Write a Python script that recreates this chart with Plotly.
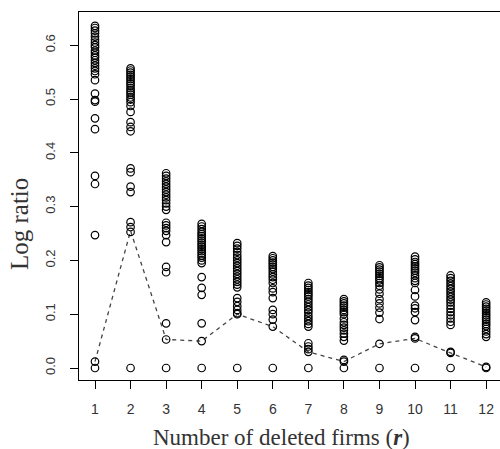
import plotly.graph_objects as go

r_values = list(range(1, 13))
x_tick_labels = [str(v) for v in r_values]
y_tick_vals = [0.0, 0.1, 0.2, 0.3, 0.4, 0.5, 0.6]
y_tick_labels = ["0.0", "0.1", "0.2", "0.3", "0.4", "0.5", "0.6"]
x_title = "Number of deleted firms (<b><i>r</i></b>)"
y_title = "Log ratio"

col1 = [0.636, 0.632, 0.627, 0.622, 0.616, 0.61, 0.605, 0.60, 0.596, 0.59, 0.586, 0.581, 0.577,
        0.572, 0.567, 0.562, 0.557, 0.552, 0.546, 0.535, 0.51, 0.498, 0.495, 0.464, 0.444,
        0.357, 0.342, 0.247, 0.012, 0.0]
col2 = [0.557, 0.553, 0.549, 0.545, 0.541, 0.537, 0.533, 0.529, 0.525, 0.52, 0.516, 0.512, 0.508,
        0.503, 0.499, 0.494, 0.487, 0.476, 0.457, 0.448, 0.44, 0.371, 0.364, 0.337, 0.327,
        0.271, 0.262, 0.253, 0.0]
col3 = [0.362, 0.357, 0.352, 0.347, 0.342, 0.337, 0.332, 0.327, 0.322, 0.317, 0.312, 0.306, 0.3,
        0.294, 0.27, 0.265, 0.26, 0.255, 0.247, 0.234, 0.188, 0.178, 0.083, 0.053, 0.0]
col4 = [0.268, 0.263, 0.258, 0.253, 0.249, 0.245, 0.241, 0.237, 0.233, 0.229, 0.225, 0.221, 0.217,
        0.213, 0.209, 0.205, 0.2, 0.195, 0.169, 0.149, 0.136, 0.083, 0.05, 0.0]
col5 = [0.232, 0.227, 0.222, 0.216, 0.21, 0.205, 0.2, 0.195, 0.19, 0.185, 0.18, 0.175, 0.17,
        0.165, 0.16, 0.155, 0.15, 0.13, 0.123, 0.115, 0.108, 0.102, 0.1, 0.0]
col6 = [0.208, 0.204, 0.2, 0.196, 0.192, 0.188, 0.184, 0.179, 0.174, 0.169, 0.164, 0.158, 0.148,
        0.141, 0.13, 0.108, 0.1, 0.09, 0.077, 0.0]
col7 = [0.158, 0.153, 0.149, 0.145, 0.141, 0.137, 0.133, 0.128, 0.123, 0.118, 0.113, 0.108, 0.103,
        0.097, 0.092, 0.087, 0.082, 0.077, 0.046, 0.04, 0.035, 0.03, 0.0]
col8 = [0.128, 0.124, 0.12, 0.116, 0.112, 0.108, 0.104, 0.1, 0.092, 0.085, 0.08, 0.075, 0.07,
        0.064, 0.058, 0.051, 0.015, 0.012, 0.0]
col9 = [0.191, 0.187, 0.183, 0.179, 0.175, 0.171, 0.167, 0.163, 0.158, 0.153, 0.146, 0.138, 0.128,
        0.12, 0.112, 0.103, 0.091, 0.045, 0.0]
col10 = [0.207, 0.202, 0.197, 0.193, 0.189, 0.185, 0.181, 0.177, 0.172, 0.167, 0.162, 0.158, 0.145,
         0.133, 0.116, 0.111, 0.104, 0.089, 0.058, 0.055, 0.0]
col11 = [0.172, 0.167, 0.162, 0.157, 0.152, 0.147, 0.142, 0.137, 0.132, 0.127, 0.122, 0.116, 0.11,
         0.104, 0.098, 0.092, 0.086, 0.08, 0.03, 0.028, 0.0]
col12 = [0.122, 0.118, 0.114, 0.11, 0.106, 0.102, 0.098, 0.094, 0.09, 0.086, 0.082, 0.078, 0.073,
         0.068, 0.063, 0.058, 0.0, 0.002]

columns = [col1, col2, col3, col4, col5, col6, col7, col8, col9, col10, col11, col12]
dashed_series = [0.012, 0.255, 0.053, 0.05, 0.1, 0.077, 0.03, 0.012, 0.045, 0.055, 0.028, 0.002]

xs, ys = [], []
for r, col in zip(r_values, columns):
    xs.extend([r] * len(col))
    ys.extend(col)

fig = go.Figure()
fig.add_trace(go.Scatter(
    x=r_values, y=dashed_series, mode="lines",
    line=dict(color="#444444", width=1.3, dash="4px,4px"),
    hoverinfo="skip", showlegend=False))
fig.add_trace(go.Scatter(
    x=xs, y=ys, mode="markers",
    marker=dict(symbol="circle-open", size=7.5, color="black", line=dict(width=1.2, color="black")),
    showlegend=False))

tick_font = dict(family="Liberation Sans, Arial, sans-serif", size=13, color="#333333")
serif = "Liberation Serif, Times New Roman, serif"

fig.update_layout(
    width=500, height=449,
    margin=dict(l=79, r=0, t=12, b=69),
    paper_bgcolor="white", plot_bgcolor="white",
    xaxis=dict(
        range=[0.55, 12.39], tickmode="array", tickvals=r_values, ticktext=x_tick_labels,
        showgrid=False, zeroline=False, showline=True, linecolor="black", linewidth=1.3,
        mirror=True, ticks="outside", ticklen=8, tickwidth=1, tickcolor="black",
        tickfont=dict(tick_font, size=14), ticklabelstandoff=8,
    ),
    yaxis=dict(
        range=[-0.0223, 0.6617], tickmode="array", tickvals=y_tick_vals, ticktext=y_tick_labels,
        showgrid=False, zeroline=False, showline=True, linecolor="black", linewidth=1.3,
        ticks="outside", ticklen=8, tickwidth=1, tickcolor="black",
        tickangle=-90, tickfont=tick_font, ticklabelstandoff=10,
    ),
    annotations=[
        dict(text=x_title, xref="paper", yref="paper", x=0.48, y=-0.155,
             xanchor="center", yanchor="middle", showarrow=False,
             font=dict(family=serif, size=23, color="#333333")),
        dict(text=y_title, xref="paper", yref="paper", x=-0.14, y=0.424,
             xanchor="center", yanchor="middle", textangle=-90, showarrow=False,
             font=dict(family=serif, size=25, color="#333333")),
    ],
)

fig.write_html("out.html")
